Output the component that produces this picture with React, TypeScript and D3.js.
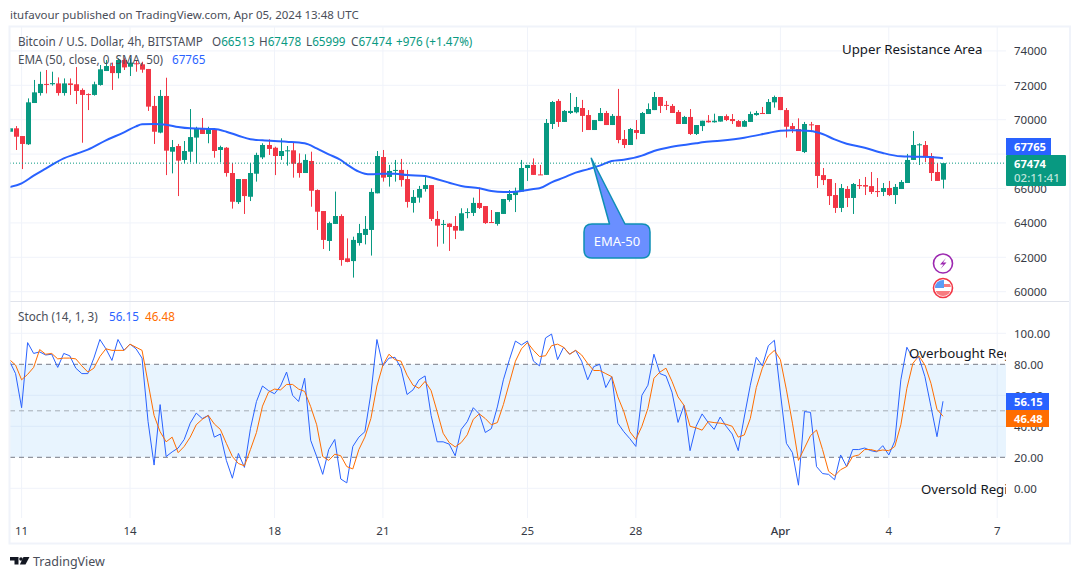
import * as d3 from "d3";

// BTC/USD 4h candles. First entry is the bar two before Mar 11.
const firstBar = -2;
const opens = [69300,69500,69050,68570,70970,71550,72080,72060,72110,71550,72110,72060,71730,71490,71440,72020,72830,73120,72710,73470,73080,73280,73220,72950,70800,69250,71380,68140,68470,67660,68140,68960,69520,69170,69420,68240,68370,66900,65210,66550,65520,66860,67810,68530,68370,67890,68160,68220,67480,66900,67600,65910,64690,62950,63940,64400,61940,61780,62830,
  63300,63590,65720,67830,66670,67020,67080,66550,65160,65470,65970,66200,64230,63880,63960,63820,63550,64580,64580,65160,64980,64050,63940,64520,65330,65620,65820,67190,67370,66820,66790,69750,71090,69870,70390,70430,70680,70270,69400,69920,70390,69690,70220,68880,68530,69400,69170,70330,70560,71320,70860,70800,70450,69750,70160,69170,
  69630,69940,69850,69890,70210,70040,69920,69590,69870,70270,70390,70330,71010,71320,70560,69630,69460,68120,69730,69690,66780,66550,65620,64870,65970,65450,66200,66200,66140,65850,65800,66030,65620,65970,66320,67660,68510,68530,67890,66960,66513];
const highs = [69500,69630,69050,71240,72310,72790,72890,72790,72460,72400,72400,73060,71820,71530,72210,73180,73470,73320,73570,73570,73570,73470,73370,72950,71380,71730,72440,68820,68590,68760,70620,69590,70100,69590,69460,68490,68410,67480,66550,66550,67480,68080,68630,68860,68430,68920,68470,68660,68040,67990,68140,65950,64690,64070,65820,64500,63100,63200,63940,
  64400,66010,68180,68240,67370,67660,67720,67080,65910,66150,66690,66200,64690,64170,63980,64400,64850,64850,65470,66050,64980,64750,64630,65390,65910,66050,67660,67370,67750,67370,70040,71090,71200,70560,71550,71320,71150,70560,69980,70680,70510,70330,71790,69400,69520,69980,70450,70950,71610,71320,71090,70910,70560,70220,70620,69690,
  69940,70270,70350,70210,70310,70330,69980,69980,70470,70510,70740,71200,71400,71320,70680,69810,70080,69870,69870,69690,67190,66550,66320,66260,66140,66320,66550,66670,66960,66610,66320,66440,66260,66490,68010,69340,68630,68760,68060,67480,67478];
const lows = [69300,68240,67130,68530,70970,71400,71530,71980,71400,71400,71440,70910,68660,70560,71400,71980,72830,71730,72400,72890,72540,72790,72730,70510,68590,69210,66780,66880,65560,67460,67520,67460,69170,68630,67790,67520,66690,64830,65100,64520,65270,66400,67710,67950,66780,67660,67330,66630,66630,66900,64940,63590,62480,62370,63940,61510,61710,60820,62680,
  62750,62100,65720,66400,66110,66400,66110,64890,64600,65180,65820,64110,62620,62790,62370,63060,63550,64270,64400,64810,63940,64010,63840,64520,65230,64630,65820,66440,66790,66790,66790,69460,69580,69870,70330,70370,69290,69400,69400,69920,69690,69690,68630,68350,68530,68860,69170,70330,70560,70390,70560,70390,69750,69750,69110,69110,
  69340,69830,69830,69890,69920,69750,69580,69580,69870,70230,70330,70330,70700,70560,68960,69230,68180,68060,69280,66030,66200,65040,64580,64630,64920,64520,65970,65620,65680,65510,65560,65560,65100,65970,66320,67660,67370,67540,66440,66440,65999];
const closes = [69500,69010,68590,71010,71590,72080,72040,72130,71550,72110,72020,71670,71440,71460,72060,72930,73120,72710,73470,73040,73320,73240,72910,70760,69300,71380,68200,68410,67620,68180,68990,69520,69170,69500,68180,68410,66900,65230,66550,65560,66900,67950,68530,68300,67890,68180,68220,67440,66900,67660,65870,64650,63010,63990,64400,61840,61730,63010,63410,
  63650,65800,67890,66630,67020,67080,66490,65220,65510,65970,66200,64230,63840,63940,63760,63550,64560,64630,65160,64870,63990,64010,64630,65390,65680,65850,67190,67370,66790,66790,69810,71030,69870,70510,70510,70740,70220,69400,69980,70390,69690,70220,68820,68530,69460,69230,70390,70620,71320,70800,70820,70390,69750,70160,69170,69690,
  69940,69850,69940,70210,69980,69920,69590,69920,70330,70390,70330,71030,71320,70560,69590,69460,68180,69750,69690,66730,66490,65560,64870,66030,65450,66260,66140,66110,65800,65800,66030,65620,66090,66380,67660,68530,68570,67830,66900,66440,67474];

// EMA (50): samples taken along the line, bar number and level
const emaBars = [-2,0,2,4,7,9,11,14,17,19,20,22,24,26,28,32,34,36,38,40,44,47,49,51,53,54,56,57,58,60,62,64,67,69,71,73,76,78,80,82,85,86,88,90,92,94,96,98,100,103,105,108,112,113,116,120,124,126,128,131,133,135,137,140,143,146,148,151,153];
const emaLevels = [66086,66300,66745,67152,67753,68005,68257,68800,69265,69613,69730,69749,69710,69575,69497,69459,69303,69071,68858,68800,68722,68625,68334,67985,67656,67405,66978,66862,66823,66862,66862,66785,66727,66533,66339,66145,66009,65854,65796,65816,65971,66009,66358,66630,66920,67114,67327,67598,67676,67909,68180,68432,68626,68683,68780,68955,69226,69362,69381,69342,69168,68858,68606,68373,68063,67869,67850,67830,67765];

// Stochastic, one value per bar
const stochK = [82,74,52,94,87,88,86,86.5,78,87,85.5,77.5,74,74,84,96,90,82.5,96,89,93,90,84,43,15,54,20.5,23.5,26,31.5,42,48.5,45,47,33,35,18,6.5,22.5,13.5,38.5,56,66,63,61,66,75,60,56,71,31,20.5,9,25,31.5,6,3.5,27,33,
  36.5,61,96,79,84,84.5,77.5,60.5,63.5,70,72.5,47,30,30,28.5,21,38,43,52,48,36,38.5,52.5,70,83,95,92.5,95,82,79,97,99.5,83,91,86.5,89,82,70,78.5,80,65,72,42,36.5,32,27,60,66.5,86.5,74,72.5,62,42.5,53.5,24.3,40,48,42.5,38,46,
  40,35,24.3,46,66.5,84.5,79,92,95.5,61.5,29,23,2,49.5,49,14,9.5,9,5.5,21.5,14,25,25,26,24.3,23.5,27.5,21.5,30.5,70,91,84,84.5,72,52.7,33.3,56.15];
const stochD = [83,79.5,70,73.5,78,89.5,86.5,87,83.5,84,84,83.5,79,75,77.5,85,90,89,89,89,93,91,89,68,47,36.5,30,33,23,27,33,41,44.5,47,41.5,38,29,20.5,16,14.5,25,36,53,62,64,63.5,67,67,64,62.5,52.7,41,20.5,18,22,21,14,12.5,25,
  33,45,66,79.5,86.5,83,82,73,66.5,64.5,69,63,49.5,35.5,29.5,26.7,29.5,34.5,44.5,48,45,41,42.4,54,68,82,90,94,89,85,85.5,92,93,91,86.5,89,86,80.5,76,76,74,72,59,49.5,36.5,31.5,40,51.5,71,75,77.5,69,59,53.5,40,39,37.5,43,42.4,42,
  41.3,40,33,34.4,45,65,77.5,85.4,89,83,63.5,42,18,26,34,37.6,25,11,8,12,14,20.5,21.5,25,25,24,24.7,24.3,27,41,64.5,80.6,85.4,79.5,67.7,51,46.48];

const priceTicks = [74000, 72000, 70000, 68000, 66000, 64000, 62000, 60000];
const stochTicks = [100, 80, 60, 40, 20, 0];
const stochLevels = [80, 50, 20];
const timeBars = [0, 18, 42, 60, 84, 102, 126, 144, 162];
const timeLabels = ["11", "14", "18", "21", "25", "28", "Apr", "4", "7"];

const lastPrice = 67474;
const lastEma = 67765;
const lastK = 56.15;
const lastD = 46.48;

const W = 1080;
const H = 579;
const FONT = "'Noto Sans', sans-serif";
const UP = "#089981";
const DOWN = "#f23645";
const BLUE = "#2962ff";
const ORANGE = "#ff6d00";
const GRID = "#f0f3fa";
const TXT = "#131722";
const LEGEND = 11.7;
const AXIS = 11.5;
const NOTE = 13.25;

const left = 10;
const axisX = 1006;
const right = 1070;

const x = d3.scaleLinear().domain([0, 153]).range([21.6, 943]);
const y = d3.scaleLinear().domain([60000, 74000]).range([291.7, 50.9]);
const ys = d3.scaleLinear().domain([0, 100]).range([488.3, 333.3]);

const emaPath = d3.line<number>()
  .x((b) => x(b))
  .y((_, i) => y(emaLevels[i]))
  .curve(d3.curveMonotoneX)(emaBars) as string;

const stochLine = d3.line<number>()
  .x((_, i) => x(i + firstBar))
  .y((d) => ys(d));

export default function App() {
  return (
    <svg width={W} height={H} viewBox={`0 0 ${W} ${H}`}
      style={{ position: "absolute", left: 0, top: 0, background: "#fff", fontFamily: FONT }}>
      <defs>
        <clipPath id="mainClip"><rect x={left} y={27} width={axisX - left} height={274} /></clipPath>
        <clipPath id="stochClip"><rect x={left} y={302} width={axisX - left} height={216} /></clipPath>
        <clipPath id="flagClip"><circle cx={943} cy={288} r={8} /></clipPath>
      </defs>

      <text x={10} y={19} fontSize={11.5} fill="#4a4e59">itufavour published on TradingView.com, Apr 05, 2024 13:48 UTC</text>

      {/* gridlines */}
      {timeBars.map((b) => (
        <line key={b} x1={x(b)} x2={x(b)} y1={27} y2={518} stroke={GRID} strokeWidth={1} />
      ))}
      {priceTicks.map((t) => (
        <line key={t} x1={left} x2={axisX} y1={y(t)} y2={y(t)} stroke={GRID} strokeWidth={1} />
      ))}
      {stochTicks.filter((t) => t !== 80 && t !== 20).map((t) => (
        <line key={t} x1={left} x2={axisX} y1={ys(t)} y2={ys(t)} stroke={GRID} strokeWidth={1} />
      ))}

      {/* main pane */}
      <g clipPath="url(#mainClip)">
        {opens.map((o, i) => {
          const c = closes[i];
          const col = c >= o ? UP : DOWN;
          const px = Math.round(x(i + firstBar));
          const top = y(Math.max(o, c));
          const h = Math.max(1, Math.abs(y(o) - y(c)));
          return (
            <g key={i}>
              <line x1={px + 0.5} x2={px + 0.5} y1={y(highs[i])} y2={y(lows[i])} stroke={col} strokeWidth={1} />
              <rect x={px - 2} y={top} width={5} height={h} fill={col} />
            </g>
          );
        })}
        <path d={emaPath} fill="none" stroke={BLUE} strokeWidth={2} />
      </g>
      <line x1={left} x2={axisX} y1={y(lastPrice)} y2={y(lastPrice)} stroke={UP} strokeWidth={1} strokeDasharray="1 2" />

      {/* callout */}
      <path d={`M${x(94.6)} ${y(67760)} L625 224 H642 Q650 224 650 232 V250 Q650 258 642 258 H592 Q584 258 584 250 V232 Q584 224 592 224 H609.5 Z`}
        fill="#6a8fff" stroke="#0e8fb5" strokeWidth={1.5} strokeLinejoin="round" />
      <text x={617} y={245.5} textAnchor="middle" fontSize={13} fill="#fff">EMA-50</text>

      {/* event icons */}
      <circle cx={943} cy={263.5} r={9.5} fill="#fff" stroke="#9c27b0" strokeWidth={1.6} />
      <path d="M946 258 L940 264.5 H943.5 L940.5 269 L946.5 262.5 H943 Z" fill="#9c27b0" />
      <circle cx={943} cy={288} r={9.5} fill="#fff" stroke="#f23645" strokeWidth={1.6} />
      <g clipPath="url(#flagClip)">
        <rect x={935} y={280} width={16} height={16} fill="#fff" />
        <rect x={935} y={284} width={16} height={3} fill="#f77c80" />
        <rect x={935} y={291} width={16} height={5} fill="#f77c80" />
        <rect x={935} y={280} width={9} height={8} fill="#5b9cf6" />
      </g>

      {/* annotations */}
      <g clipPath="url(#mainClip)">
        <text x={842} y={54} fontSize={NOTE} fill={TXT}>Upper Resistance Area</text>
      </g>

      {/* stochastic pane */}
      <rect x={left} y={ys(80)} width={axisX - left} height={ys(20) - ys(80)} fill="#2196f3" fillOpacity={0.1} />
      {stochLevels.map((l) => (
        <line key={l} x1={left} x2={axisX} y1={ys(l)} y2={ys(l)}
          stroke="#787b86" strokeOpacity={l === 50 ? 0.6 : 1} strokeWidth={1} strokeDasharray="5 4" />
      ))}
      <g clipPath="url(#stochClip)">
        <path d={stochLine(stochK) as string} fill="none" stroke={BLUE} strokeWidth={1} />
        <path d={stochLine(stochD) as string} fill="none" stroke={ORANGE} strokeWidth={1} />
        <text x={909} y={358} fontSize={NOTE} fill={TXT}>Overbought Region</text>
        <text x={921} y={494} fontSize={NOTE} fill={TXT}>Oversold Region</text>
      </g>

      {/* legends */}
      <text x={18} y={46} fontSize={LEGEND} fill="#4a4e59">Bitcoin / U.S. Dollar, 4h, BITSTAMP</text>
      <text x={212} y={46} fontSize={LEGEND} fill="#4a4e59">O<tspan fill={UP}>66513</tspan></text>
      <text x={259} y={46} fontSize={LEGEND} fill="#4a4e59">H<tspan fill={UP}>67478</tspan></text>
      <text x={306} y={46} fontSize={LEGEND} fill="#4a4e59">L<tspan fill={UP}>65999</tspan></text>
      <text x={351} y={46} fontSize={LEGEND} fill="#4a4e59">C<tspan fill={UP}>67474</tspan></text>
      <text x={396} y={46} fontSize={LEGEND} fill={UP}>+976 (+1.47%)</text>
      <text x={18} y={64} fontSize={LEGEND} fill="#4a4e59">EMA (50, close, 0, SMA, 50)</text>
      <text x={172} y={64} fontSize={LEGEND} fill={BLUE}>67765</text>
      <text x={18} y={321} fontSize={LEGEND} fill="#4a4e59">Stoch (14, 1, 3)</text>
      <text x={109} y={321} fontSize={LEGEND} fill={BLUE}>{lastK.toFixed(2)}</text>
      <text x={145} y={321} fontSize={LEGEND} fill={ORANGE}>{lastD.toFixed(2)}</text>

      {/* axes */}
      {priceTicks.map((t) => (
        <text key={t} x={1014} y={y(t) + 4.5} fontSize={AXIS} fill="#363a45">{t}</text>
      ))}
      {stochTicks.map((t) => (
        <text key={t} x={1014} y={ys(t) + 4.5} fontSize={AXIS} fill="#363a45">{t.toFixed(2)}</text>
      ))}
      {timeBars.map((b, i) => (
        <text key={b} x={x(b)} y={534.5} textAnchor="middle" fontSize={AXIS} fill="#363a45"
          fontWeight={timeLabels[i] === "Apr" ? 500 : 400}>{timeLabels[i]}</text>
      ))}

      {/* last value labels */}
      <rect x={axisX} y={138} width={45} height={17} fill={BLUE} />
      <text x={1014} y={151} fontSize={11.2} fontWeight={700} fill="#fff">{lastEma}</text>
      <rect x={axisX} y={155} width={60} height={31} rx={1} fill={UP} />
      <text x={1014} y={168} fontSize={11.2} fontWeight={700} fill="#fff">{lastPrice}</text>
      <text x={1014} y={182} fontSize={11.5} fontWeight={500} fill="#bfe5dc">02:11:41</text>
      <rect x={axisX} y={393} width={43} height={17} fill={BLUE} />
      <text x={1014} y={406} fontSize={11.2} fontWeight={700} fill="#fff">{lastK.toFixed(2)}</text>
      <rect x={axisX} y={410} width={43} height={17} fill={ORANGE} />
      <text x={1014} y={423} fontSize={11.2} fontWeight={700} fill="#fff">{lastD.toFixed(2)}</text>

      {/* frame */}
      <line x1={left} x2={right} y1={301.5} y2={301.5} stroke="#e0e3eb" strokeWidth={1} />
      <rect x={9.5} y={26.5} width={right - 9.5} height={517} fill="none" stroke={GRID} strokeWidth={2} />

      {/* logo */}
      <path d="M10 557 H18.5 V564.5 H14.5 V560.5 H10 Z" fill="#131722" />
      <circle cx={21} cy={559} r={1.8} fill="#131722" />
      <path d="M23.5 557 H29.5 L25.5 564.5 H19.8 Z" fill="#131722" />
      <text x={33} y={566} fontSize={12.5} fill="#4a4e59">TradingView</text>
    </svg>
  );
}
